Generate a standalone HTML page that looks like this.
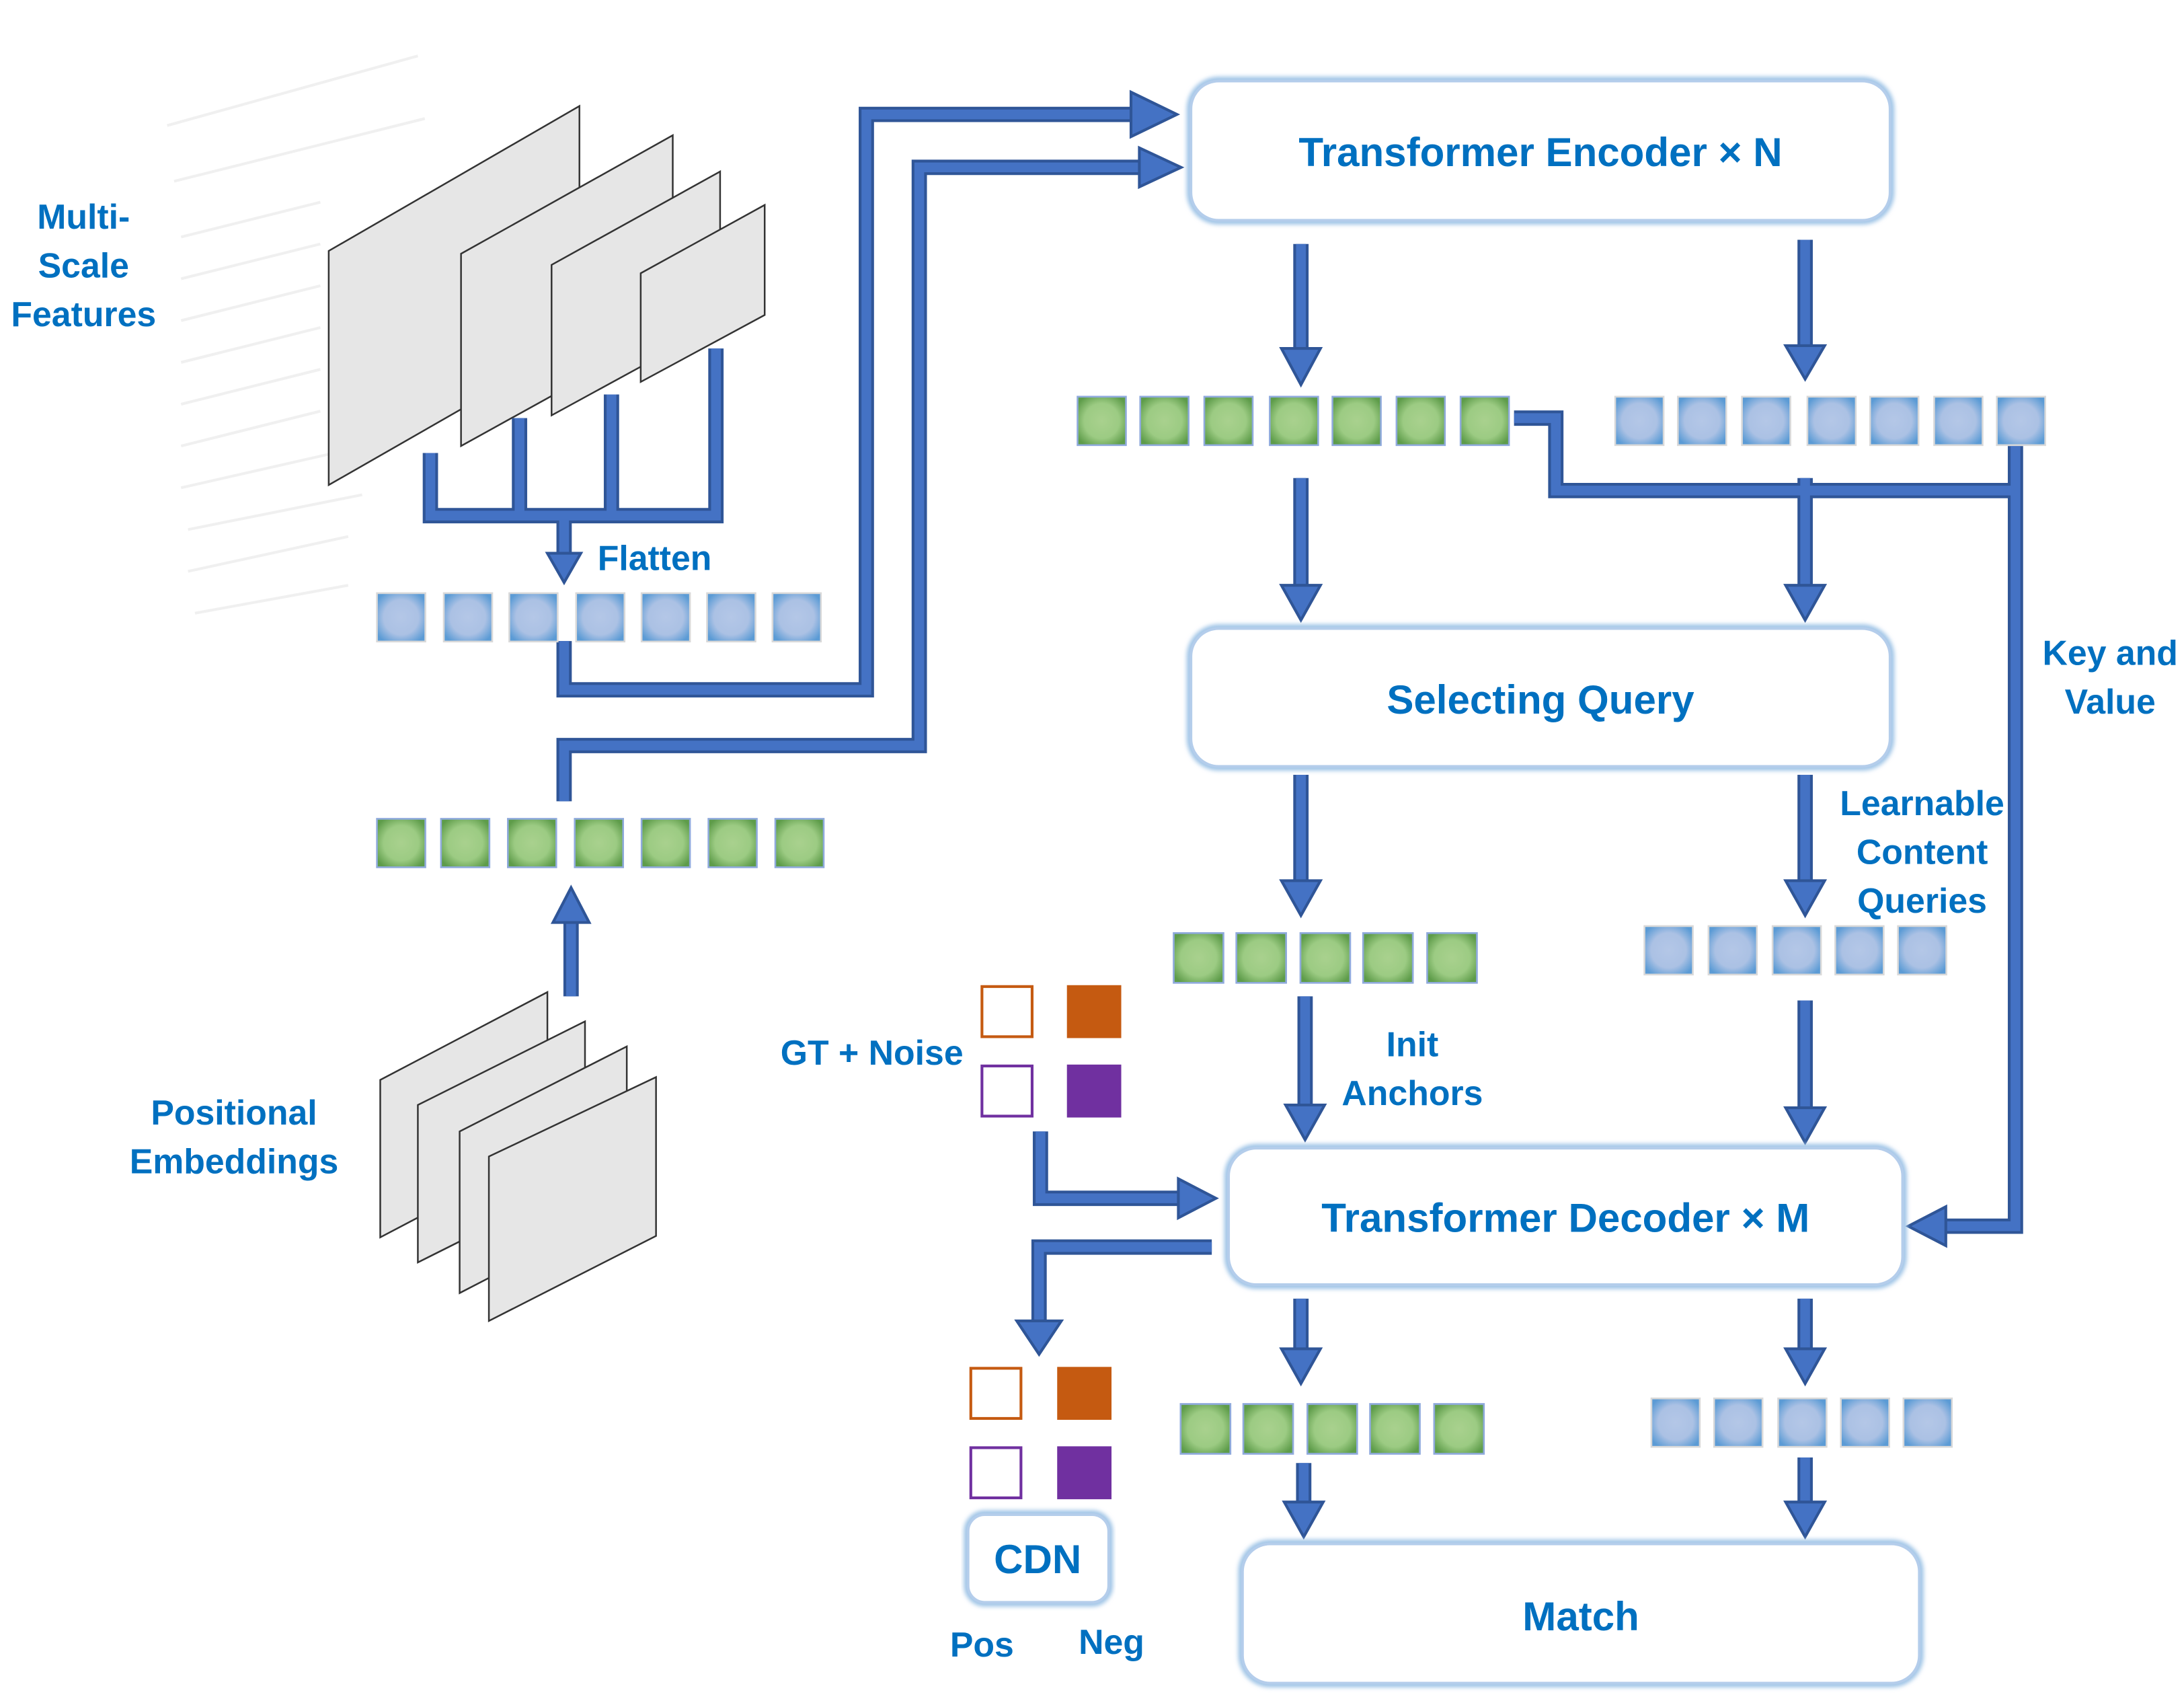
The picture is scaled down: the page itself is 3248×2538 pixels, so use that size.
<!DOCTYPE html>
<html><head><meta charset="utf-8"><style>html,body{margin:0;padding:0;background:#fff}svg{display:block}</style></head>
<body>
<svg width="3248" height="2538" viewBox="0 0 1568 1225" xmlns="http://www.w3.org/2000/svg" font-family="Liberation Sans, sans-serif">
<defs>
<radialGradient id="gb" cx="50%" cy="50%" r="60%"><stop offset="0" stop-color="#B4C7E7"/><stop offset="0.6" stop-color="#ABC1E4"/><stop offset="1" stop-color="#5B9BD5"/></radialGradient>
<radialGradient id="gg" cx="50%" cy="50%" r="60%"><stop offset="0" stop-color="#A9D18E"/><stop offset="0.6" stop-color="#9CCB83"/><stop offset="1" stop-color="#5E9C4A"/></radialGradient>
<symbol id="b" viewBox="0 0 36 36"><rect x="0.5" y="0.5" width="35" height="35" fill="url(#gb)" stroke="#D9D9D9" stroke-width="1.5"/></symbol>
<symbol id="g" viewBox="0 0 36 36"><rect x="0.5" y="0.5" width="35" height="35" fill="url(#gg)" stroke="#8FAADC" stroke-width="1.5"/></symbol>
<filter id="glow" x="-5%" y="-10%" width="110%" height="120%"><feGaussianBlur stdDeviation="1.5"/></filter>
</defs>
<style>
.l{fill:none;stroke:#2F5597;stroke-width:11;stroke-linejoin:miter}
.li{fill:none;stroke:#4472C4;stroke-width:7;stroke-linejoin:miter}
.h{fill:#4472C4;stroke:#2F5597;stroke-width:2}
.t{fill:#0070C0;font-weight:bold;font-size:25px;text-anchor:middle}
.bt{fill:#0070C0;font-weight:bold;font-size:29px;text-anchor:middle}
.bg{fill:none;stroke:#9DC3E6;stroke-width:6;filter:url(#glow)}
.bx{fill:#fff;stroke:#B4CDEB;stroke-width:2}
.pl{fill:#E6E6E6;stroke:#333;stroke-width:1.2}
</style>
<!-- faint document -->
<g stroke="#f0f0f0" stroke-width="2">
<path d="M120 90 L300 40 M125 130 L305 85 M130 170 L230 145 M130 200 L230 175 M130 230 L230 205 M130 260 L230 235 M130 290 L230 265 M130 320 L230 295 M130 350 L240 325 M135 380 L260 355 M135 410 L250 385 M140 440 L250 420"/>
</g>
<!-- planes -->
<polygon class="pl" points="236,180 416,76 416,245 236,348"/>
<polygon class="pl" points="331,182 483,97 483,236 331,320"/>
<polygon class="pl" points="396,190 517,123 517,232 396,298"/>
<polygon class="pl" points="460,196 549,147 549,226 460,274"/>
<polygon class="pl" points="273,775 393,712 393,825 273,888"/>
<polygon class="pl" points="300,793 420,733 420,846 300,906"/>
<polygon class="pl" points="330,812 450,751 450,866 330,928"/>
<polygon class="pl" points="351,830 471,773 471,887 351,948"/>
<!-- connectors -->
<g>
<path class="l" d="M309 325 V370 H514 V250 M373 300 V370 M439 283 V370 M405 370 V398"/>
<path class="l" d="M405 460 V495 H622 V82 H815"/>
<path class="l" d="M405 575 V535 H660 V120 H820"/>
<path class="l" d="M410 715 V660"/>
<path class="l" d="M934 175 V252 M1296 172 V250 M934 343 V422 M1296 343 V422 M934 556 V634 M1296 556 V634 M937 715 V795 M1296 718 V797 M934 932 V970 M1296 932 V970 M936 1050 V1080 M1296 1046 V1080"/>
<path class="l" d="M1087 300 H1117 V352 H1445 M1447 320 V880 H1395"/>
<path class="l" d="M747 812 V860 H848"/>
<path class="l" d="M870 895 H746 V950"/>
</g>
<g>
<path class="li" d="M309 325 V370 H514 V250 M373 300 V370 M439 283 V370 M405 370 V398"/>
<path class="li" d="M405 460 V495 H622 V82 H815"/>
<path class="li" d="M405 575 V535 H660 V120 H820"/>
<path class="li" d="M410 715 V660"/>
<path class="li" d="M934 175 V252 M1296 172 V250 M934 343 V422 M1296 343 V422 M934 556 V634 M1296 556 V634 M937 715 V795 M1296 718 V797 M934 932 V970 M1296 932 V970 M936 1050 V1080 M1296 1046 V1080"/>
<path class="li" d="M1087 300 H1117 V352 H1445 M1447 320 V880 H1395"/>
<path class="li" d="M747 812 V860 H848"/>
<path class="li" d="M870 895 H746 V950"/>
</g>
<!-- heads -->
<polygon class="h" points="393,397 417,397 405,418"/>
<polygon class="h" points="812,66 812,98 845,82"/>
<polygon class="h" points="818,106 818,134 848,120"/>
<polygon class="h" points="397,662 423,662 410,637"/>
<g>
<polygon class="h" points="920,250 948,250 934,276"/>
<polygon class="h" points="1282,248 1310,248 1296,272"/>
<polygon class="h" points="920,420 948,420 934,445"/>
<polygon class="h" points="1282,420 1310,420 1296,445"/>
<polygon class="h" points="920,632 948,632 934,657"/>
<polygon class="h" points="1282,632 1310,632 1296,657"/>
<polygon class="h" points="923,793 951,793 937,818"/>
<polygon class="h" points="1282,795 1310,795 1296,820"/>
<polygon class="h" points="920,968 948,968 934,993"/>
<polygon class="h" points="1282,968 1310,968 1296,993"/>
<polygon class="h" points="922,1078 950,1078 936,1103"/>
<polygon class="h" points="1282,1078 1310,1078 1296,1103"/>
<polygon class="h" points="730,948 762,948 746,972"/>
<polygon class="h" points="846,846 846,874 873,860"/>
<polygon class="h" points="1397,866 1397,894 1370,880"/>
</g>
<!-- squares -->
<g>
<use href="#b" x="270" y="425" width="36" height="36"/><use href="#b" x="318" y="425" width="36" height="36"/><use href="#b" x="365" y="425" width="36" height="36"/><use href="#b" x="413" y="425" width="36" height="36"/><use href="#b" x="460" y="425" width="36" height="36"/><use href="#b" x="507" y="425" width="36" height="36"/><use href="#b" x="554" y="425" width="36" height="36"/>
<use href="#g" x="270" y="587" width="36" height="36"/><use href="#g" x="316" y="587" width="36" height="36"/><use href="#g" x="364" y="587" width="36" height="36"/><use href="#g" x="412" y="587" width="36" height="36"/><use href="#g" x="460" y="587" width="36" height="36"/><use href="#g" x="508" y="587" width="36" height="36"/><use href="#g" x="556" y="587" width="36" height="36"/>
<use href="#g" x="773" y="284" width="36" height="36"/><use href="#g" x="818" y="284" width="36" height="36"/><use href="#g" x="864" y="284" width="36" height="36"/><use href="#g" x="911" y="284" width="36" height="36"/><use href="#g" x="956" y="284" width="36" height="36"/><use href="#g" x="1002" y="284" width="36" height="36"/><use href="#g" x="1048" y="284" width="36" height="36"/>
<use href="#b" x="1159" y="284" width="36" height="36"/><use href="#b" x="1204" y="284" width="36" height="36"/><use href="#b" x="1250" y="284" width="36" height="36"/><use href="#b" x="1297" y="284" width="36" height="36"/><use href="#b" x="1342" y="284" width="36" height="36"/><use href="#b" x="1388" y="284" width="36" height="36"/><use href="#b" x="1433" y="284" width="36" height="36"/>
<use href="#g" x="842" y="669" width="37" height="37"/><use href="#g" x="887" y="669" width="37" height="37"/><use href="#g" x="933" y="669" width="37" height="37"/><use href="#g" x="978" y="669" width="37" height="37"/><use href="#g" x="1024" y="669" width="37" height="37"/>
<use href="#b" x="1180" y="664" width="36" height="36"/><use href="#b" x="1226" y="664" width="36" height="36"/><use href="#b" x="1272" y="664" width="36" height="36"/><use href="#b" x="1317" y="664" width="36" height="36"/><use href="#b" x="1362" y="664" width="36" height="36"/>
<use href="#g" x="847" y="1007" width="37" height="37"/><use href="#g" x="892" y="1007" width="37" height="37"/><use href="#g" x="938" y="1007" width="37" height="37"/><use href="#g" x="983" y="1007" width="37" height="37"/><use href="#g" x="1029" y="1007" width="37" height="37"/>
<use href="#b" x="1185" y="1003" width="36" height="36"/><use href="#b" x="1230" y="1003" width="36" height="36"/><use href="#b" x="1276" y="1003" width="36" height="36"/><use href="#b" x="1321" y="1003" width="36" height="36"/><use href="#b" x="1366" y="1003" width="36" height="36"/>
</g>
<!-- colored squares -->
<rect x="705" y="708" width="36" height="36" fill="#fff" stroke="#C55A11" stroke-width="2"/>
<rect x="766" y="707" width="39" height="38" fill="#C55A11"/>
<rect x="705" y="765" width="36" height="36" fill="#fff" stroke="#7030A0" stroke-width="2"/>
<rect x="766" y="764" width="39" height="38" fill="#7030A0"/>
<rect x="697" y="982" width="36" height="36" fill="#fff" stroke="#C55A11" stroke-width="2"/>
<rect x="759" y="981" width="39" height="38" fill="#C55A11"/>
<rect x="697" y="1039" width="36" height="36" fill="#fff" stroke="#7030A0" stroke-width="2"/>
<rect x="759" y="1038" width="39" height="38" fill="#7030A0"/>
<!-- boxes -->
<rect class="bg" x="855" y="58" width="502" height="100" rx="20"/>
<rect class="bg" x="855" y="451" width="502" height="99" rx="20"/>
<rect class="bg" x="882" y="824" width="484" height="98" rx="20"/>
<rect class="bg" x="892" y="1108" width="486" height="100" rx="20"/>
<rect class="bg" x="695" y="1087" width="101" height="63" rx="12"/>
<rect class="bx" x="855" y="58" width="502" height="100" rx="20"/>
<rect class="bx" x="855" y="451" width="502" height="99" rx="20"/>
<rect class="bx" x="882" y="824" width="484" height="98" rx="20"/>
<rect class="bx" x="892" y="1108" width="486" height="100" rx="20"/>
<rect class="bx" x="695" y="1087" width="101" height="63" rx="12"/>
<!-- text -->
<text class="bt" x="1106" y="119">Transformer Encoder × N</text>
<text class="bt" x="1106" y="512">Selecting Query</text>
<text class="bt" x="1124" y="884">Transformer Decoder × M</text>
<text class="bt" x="1135" y="1170" font-size="31">Match</text>
<text class="bt" x="745" y="1129" font-size="27">CDN</text>
<text class="t" x="60" y="164">Multi-</text>
<text class="t" x="60" y="199">Scale</text>
<text class="t" x="60" y="234">Features</text>
<text class="t" x="470" y="409">Flatten</text>
<text class="t" x="168" y="807">Positional</text>
<text class="t" x="168" y="842">Embeddings</text>
<text class="t" x="626" y="764">GT + Noise</text>
<text class="t" x="1014" y="758">Init</text>
<text class="t" x="1014" y="793">Anchors</text>
<text class="t" x="1380" y="585">Learnable</text>
<text class="t" x="1380" y="620">Content</text>
<text class="t" x="1380" y="655">Queries</text>
<text class="t" x="1515" y="477">Key and</text>
<text class="t" x="1515" y="512">Value</text>
<text class="t" x="705" y="1189">Pos</text>
<text class="t" x="798" y="1187">Neg</text>
</svg>
</body></html>
